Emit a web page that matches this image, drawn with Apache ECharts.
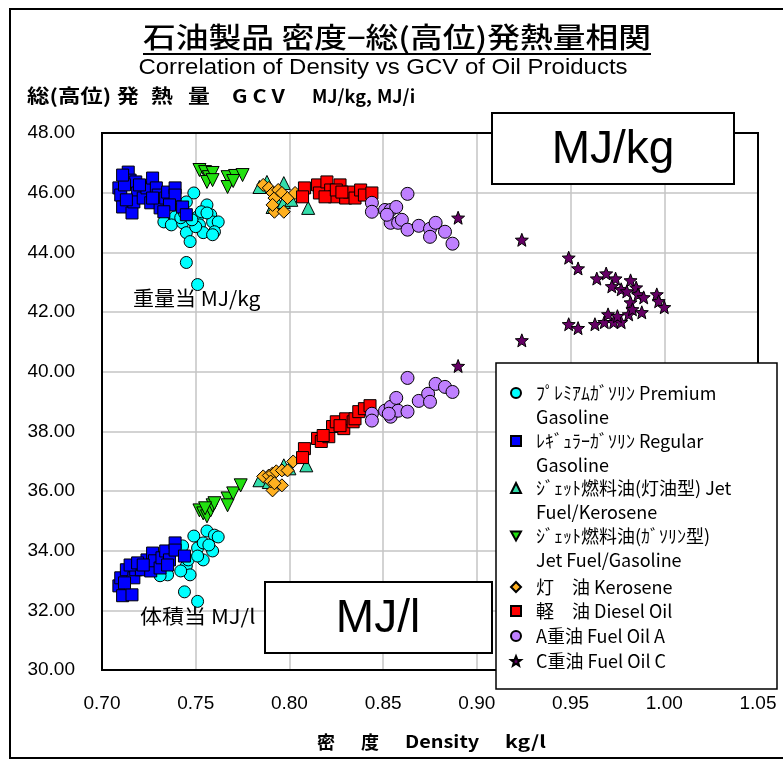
<!DOCTYPE html>
<html>
<head>
<meta charset="utf-8">
<script src="https://cdn.jsdelivr.net/npm/echarts@6/dist/echarts.min.js"></script>
<style>
  html, body { margin: 0; padding: 0; background: #fff; }
  #main { width: 783px; height: 760px; }
</style>
</head>
<body>
<div id="main"></div>
<script>
// series names (legend text, second line drawn under the entry)
const seriesNames = [
  'ﾌﾟﾚﾐｱﾑｶﾞｿﾘﾝ Premium\nGasoline',
  'ﾚｷﾞｭﾗｰｶﾞｿﾘﾝ Regular\nGasoline',
  'ｼﾞｪｯﾄ燃料油(灯油型) Jet\nFuel/Kerosene',
  'ｼﾞｪｯﾄ燃料油(ｶﾞｿﾘﾝ型)\nJet Fuel/Gasoline',
  '灯　油 Kerosene',
  '軽　油 Diesel Oil',
  'A重油 Fuel Oil A',
  'C重油 Fuel Oil C'
];

const xTicks = { min: 0.70, max: 1.05, interval: 0.05 };
const yTicks = { min: 30, max: 48, interval: 2 };

// [density kg/l, GCV MJ/kg]  and  [density kg/l, GCV MJ/l]
const premiumKg = [[0.749,45.99],[0.745,45.69],[0.742,45.49],[0.739,45.19],[0.733,45.02],[0.737,44.92],
  [0.743,44.99],[0.745,44.66],[0.747,44.36],[0.751,45.19],[0.752,44.92],[0.754,44.66],[0.756,45.59],
  [0.758,45.26],[0.759,45.02],[0.762,45.02],[0.760,44.69],[0.759,44.59],[0.750,44.86],[0.748,45.09],
  [0.742,45.16],[0.753,45.36],[0.756,45.32],[0.744,45.32],[0.745,43.66],[0.751,42.92]];
const premiumL = [[0.756,34.66],[0.760,34.52],[0.762,34.46],[0.751,34.09],[0.754,34.26],[0.759,33.99],
  [0.754,33.69],[0.749,34.49],[0.743,34.16],[0.745,33.49],[0.747,33.19],[0.742,33.32],[0.735,33.19],
  [0.731,33.16],[0.746,33.69],[0.751,33.82],[0.757,34.19],[0.744,32.62],[0.751,32.30]];

const regularKg = [[0.714,46.69],[0.715,46.42],[0.709,46.16],[0.710,45.92],[0.711,45.52],[0.716,45.32],
  [0.718,46.36],[0.719,45.99],[0.717,45.69],[0.722,45.82],[0.724,46.16],[0.727,46.49],[0.726,45.66],
  [0.729,46.16],[0.730,45.92],[0.731,45.49],[0.734,45.82],[0.735,46.02],[0.739,46.16],[0.739,45.92],
  [0.736,45.59],[0.743,45.52],[0.745,45.26],[0.712,46.26],[0.713,45.76],[0.720,46.26],[0.727,45.82],
  [0.711,46.59],[0.733,45.36]];
const regularL = [[0.709,32.82],[0.711,32.49],[0.716,32.52],[0.710,33.09],[0.713,33.36],[0.717,33.09],
  [0.718,33.36],[0.721,33.36],[0.715,33.52],[0.724,33.69],[0.726,33.32],[0.727,33.92],[0.728,33.66],
  [0.731,33.42],[0.732,33.76],[0.734,33.99],[0.736,33.69],[0.739,34.26],[0.739,34.02],[0.744,33.82],
  [0.719,33.59],[0.712,32.92],[0.722,33.52],[0.735,33.52]];

const jetKeroKg = [[0.784,46.19],[0.788,46.36],[0.797,46.32],[0.793,45.76],[0.797,45.69],[0.801,45.76],
  [0.810,45.49],[0.791,45.52]];
const jetKeroL = [[0.784,36.36],[0.797,36.86],[0.800,36.76],[0.809,36.86],[0.789,36.30]];

const jetGasKg = [[0.752,46.76],[0.755,46.69],[0.757,46.52],[0.756,46.36],[0.759,46.66],[0.759,46.42],
  [0.767,46.52],[0.767,46.19],[0.771,46.56],[0.775,46.59],[0.770,46.39]];
const jetGasL = [[0.752,35.35],[0.754,35.25],[0.756,35.15],[0.758,35.35],[0.759,35.52],[0.760,35.59],
  [0.767,35.75],[0.767,35.52],[0.770,35.92],[0.774,36.19],[0.755,35.42]];

const keroseneKg = [[0.786,46.26],[0.789,46.16],[0.791,45.99],[0.792,45.82],[0.794,46.09],[0.796,45.99],
  [0.799,45.82],[0.792,45.36],[0.797,45.36],[0.803,45.99],[0.791,45.59]];
const keroseneL = [[0.786,36.49],[0.789,36.52],[0.791,36.59],[0.793,36.66],[0.796,36.69],[0.799,36.69],
  [0.802,36.99],[0.791,36.02],[0.796,36.19],[0.790,36.32],[0.792,36.26]];

const dieselKg = [[0.808,46.16],[0.807,45.86],[0.815,46.26],[0.816,45.99],[0.820,46.36],[0.822,46.09],
  [0.824,45.86],[0.827,46.26],[0.830,45.82],[0.832,46.02],[0.835,45.82],[0.838,46.09],[0.840,45.92],
  [0.844,45.99],[0.819,45.86],[0.825,46.09],[0.828,46.02]];
const dieselL = [[0.808,37.42],[0.807,37.12],[0.815,37.76],[0.817,37.66],[0.821,37.82],[0.823,38.16],
  [0.825,38.32],[0.829,38.09],[0.830,38.42],[0.834,38.32],[0.835,38.42],[0.837,38.66],[0.840,38.76],
  [0.843,38.86],[0.818,37.86],[0.827,38.19]];

const fuelAKg = [[0.844,45.66],[0.844,45.36],[0.851,45.42],[0.854,45.42],[0.857,45.52],[0.863,45.96],
  [0.854,44.99],[0.858,44.99],[0.860,45.09],[0.863,44.76],[0.869,44.89],[0.875,44.79],[0.878,44.99],
  [0.875,44.52],[0.883,44.69],[0.887,44.29],[0.852,45.26]];
const fuelAL = [[0.844,38.59],[0.844,38.36],[0.851,38.69],[0.854,38.82],[0.857,39.12],[0.854,38.49],
  [0.858,38.69],[0.863,38.66],[0.863,39.79],[0.869,39.02],[0.874,39.26],[0.875,38.99],[0.878,39.59],
  [0.883,39.49],[0.887,39.32],[0.853,38.59]];

const fuelCKg = [[0.890,45.16],[0.924,44.42],[0.949,43.82],[0.954,43.46],[0.964,43.12],[0.969,43.29],
  [0.974,43.12],[0.972,42.86],[0.977,42.76],[0.982,43.06],[0.980,42.69],[0.985,42.82],[0.986,42.59],
  [0.989,42.49],[0.996,42.59],[0.997,42.36]];
const fuelCL = [[0.890,40.19],[0.924,41.05],[0.949,41.59],[0.954,41.46],[0.963,41.59],[0.968,41.66],
  [0.973,41.66],[0.977,41.66],[0.970,41.92],[0.975,41.86],[0.981,41.92],[0.982,42.32],[0.983,42.09],
  [0.988,41.99],[1.000,42.16]];

const STAR = 'path://M0,-10L2.6,-3.4L9.5,-3.1L4.1,1.3L5.9,8.1L0,4.2L-5.9,8.1L-4.1,1.3L-9.5,-3.1L-2.6,-3.4Z';

const seriesStyle = [
  { data: premiumKg.concat(premiumL), symbol: 'circle', size: 12, color: '#00FFFF' },
  { data: regularKg.concat(regularL), symbol: 'rect', size: 12, color: '#0000FF' },
  { data: jetKeroKg.concat(jetKeroL), symbol: 'triangle', size: 13, color: '#33DDAA' },
  { data: jetGasKg.concat(jetGasL), symbol: 'triangle', size: 13, color: '#22E010', rotate: 180 },
  { data: keroseneKg.concat(keroseneL), symbol: 'diamond', size: 13, color: '#FFB020' },
  { data: dieselKg.concat(dieselL), symbol: 'rect', size: 12, color: '#FF0000' },
  { data: fuelAKg.concat(fuelAL), symbol: 'circle', size: 13, color: '#BF80FF' },
  { data: fuelCKg.concat(fuelCL), symbol: STAR, size: 13, color: '#660066' }
];

const legendIcons = ['circle', 'rect', 'triangle', 'path://M-5,-4L5,-4L0,5Z', 'diamond', 'rect', 'circle', STAR];
// first-line centre of each legend entry
const legendRows = [393, 441, 488, 536, 587, 611, 636, 661];
const LH = 24;

const chart = echarts.init(document.getElementById('main'));
const cjk = '"Noto Sans CJK JP", sans-serif';
const txt = (x, y, text, font, align, sx) => ({
  type: 'text', x: x, y: y, z: 4, scaleX: sx || 1,
  style: { text: text, font: font, fill: '#000', align: align || 'left', verticalAlign: 'middle' }
});

// second lines of the two-line legend entries
const legendLine2 = [];
seriesNames.forEach((name, i) => {
  const parts = name.split('\n');
  if (parts.length > 1) legendLine2.push(txt(536, legendRows[i] + LH, parts[1], '18px ' + cjk));
});

const option = {
  animation: false,
  backgroundColor: '#fff',
  grid: { left: 102, right: 25, top: 133, bottom: 90 },
  xAxis: {
    type: 'value',
    min: xTicks.min, max: xTicks.max, interval: xTicks.interval,
    axisLine: { show: false },
    axisTick: { show: false },
    axisLabel: { formatter: v => v.toFixed(2), fontSize: 19, color: '#000', margin: 24,
      fontFamily: 'Liberation Sans' },
    splitLine: { lineStyle: { color: '#c4c4c4', width: 1.5 } }
  },
  yAxis: {
    type: 'value',
    min: yTicks.min, max: yTicks.max, interval: yTicks.interval,
    axisLine: { show: false },
    axisTick: { show: false },
    axisLabel: { formatter: v => v.toFixed(2), fontSize: 19, color: '#000', margin: 27,
      fontFamily: 'Liberation Sans' },
    splitLine: { lineStyle: { color: '#c4c4c4', width: 1.5 } }
  },
  legend: seriesNames.map((name, i) => ({
    data: [{ name: name, icon: legendIcons[i] }],
    formatter: n => n.split('\n')[0],
    left: 510,
    top: legendRows[i] - LH / 2,
    padding: 0,
    itemWidth: 10,
    itemHeight: 10,
    selectedMode: false,
    z: 5,
    textStyle: { fontFamily: cjk, fontSize: 18, color: '#000', lineHeight: LH, padding: [0, 0, 0, 10] }
  })),
  graphic: [
    // outer frame (left, top, bottom)
    { type: 'polyline', shape: { points: [[783, 9], [10, 9], [10, 758], [783, 758]] },
      style: { stroke: '#000', lineWidth: 2, fill: null }, z: 0 },
    // plot area frame
    { type: 'rect', shape: { x: 102, y: 133, width: 656, height: 537 },
      style: { fill: null, stroke: '#000', lineWidth: 2 }, z: 1 },
    txt(397, 37, '石油製品 密度−総(高位)発熱量相関', '500 28px ' + cjk, 'center', 1.17),
    { type: 'line', shape: { x1: 143, y1: 54, x2: 651, y2: 54 }, style: { stroke: '#000', lineWidth: 2 } },
    txt(383, 68, 'Correlation of Density vs GCV of Oil Proiducts', '22px "Liberation Sans"', 'center', 1.09),
    txt(27, 96, '総(高位)', 'bold 19px ' + cjk, 'left', 1.18),
    txt(117, 96, '発', 'bold 19px ' + cjk, 'left', 1.15),
    txt(151, 96, '熱', 'bold 19px ' + cjk, 'left', 1.15),
    txt(188, 96, '量', 'bold 19px ' + cjk, 'left', 1.15),
    txt(232, 96, 'G C V', 'bold 18px ' + cjk, 'left', 1.2),
    txt(312, 96, 'MJ/kg,', 'bold 18px ' + cjk, 'left', 1.0),
    txt(377, 96, 'MJ/i', 'bold 18px ' + cjk, 'left', 1.0),
    txt(326, 742, '密', 'bold 18px ' + cjk, 'center'),
    txt(370, 742, '度', 'bold 18px ' + cjk, 'center'),
    txt(405, 742, 'Density', 'bold 17px ' + cjk, 'left', 1.17),
    txt(505, 742, 'kg/l', 'bold 17px ' + cjk, 'left', 1.25),
    txt(133, 298, '重量当 MJ/kg', '20px ' + cjk, 'left', 1.05),
    txt(140, 616, '体積当 MJ/l', '20px ' + cjk, 'left', 1.1),
    // unit boxes
    { type: 'rect', shape: { x: 492, y: 113, width: 242, height: 71 },
      style: { fill: '#fff', stroke: '#000', lineWidth: 2 }, z: 3 },
    txt(613, 150, 'MJ/kg', '46px "Liberation Sans"', 'center'),
    { type: 'rect', shape: { x: 265, y: 582, width: 227, height: 71 },
      style: { fill: '#fff', stroke: '#000', lineWidth: 2 }, z: 3 },
    txt(378, 619, 'MJ/l', '46px "Liberation Sans"', 'center'),
    // legend box
    { type: 'rect', shape: { x: 496, y: 363, width: 281, height: 326 },
      style: { fill: '#fff', stroke: '#000', lineWidth: 1.5 }, z: 3 }
  ].concat(legendLine2),
  series: seriesStyle.map((s, i) => ({
    type: 'scatter',
    name: seriesNames[i],
    data: s.data,
    symbol: s.symbol,
    symbolSize: s.size,
    symbolRotate: s.rotate || 0,
    itemStyle: { color: s.color, borderColor: '#000', borderWidth: 1, opacity: 1 },
    z: 2
  }))
};

chart.setOption(option);
</script>
</body>
</html>
